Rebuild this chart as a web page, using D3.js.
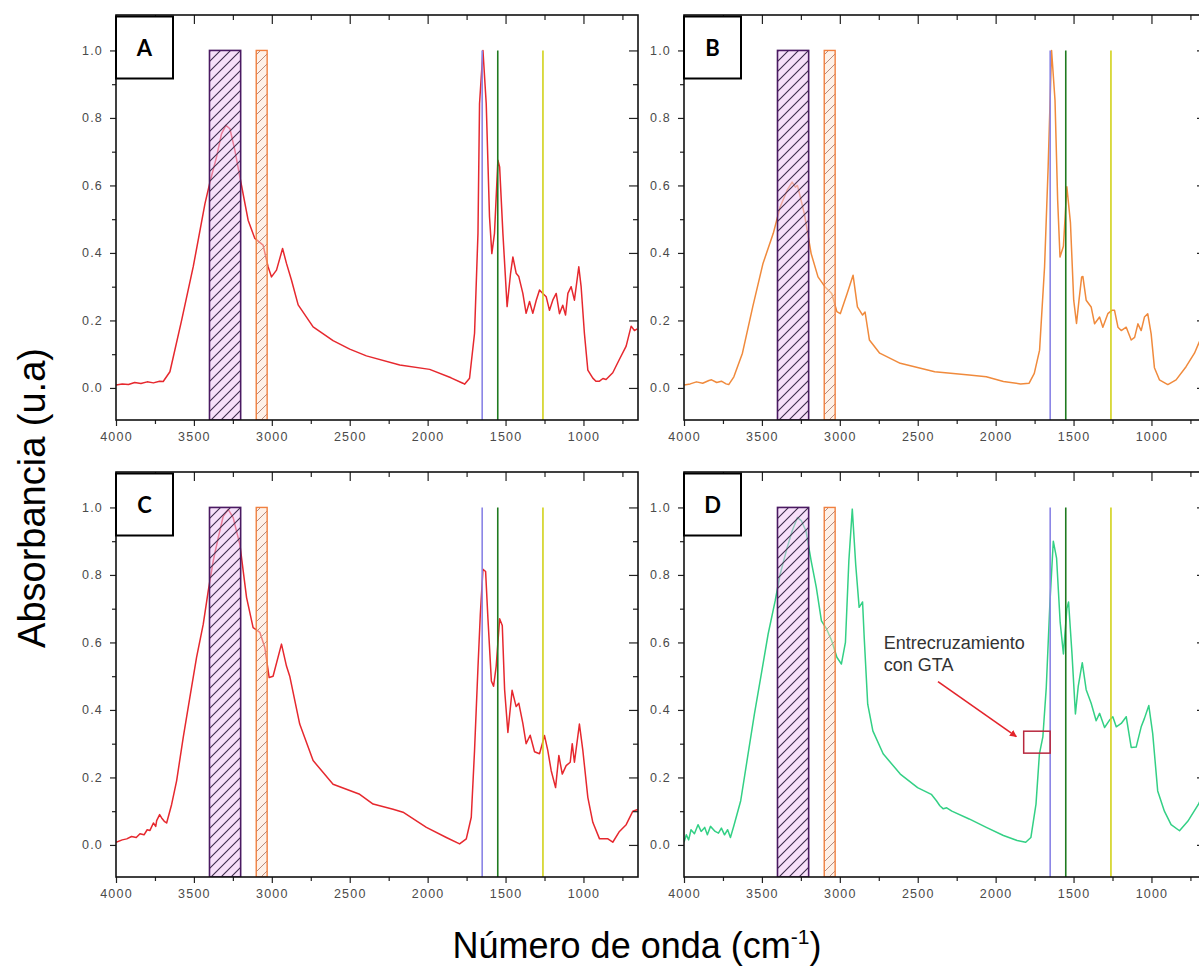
<!DOCTYPE html>
<html>
<head>
<meta charset="utf-8">
<script src="https://cdn.jsdelivr.net/npm/d3@7"></script>
<style>
  body { margin: 0; background: #fff; }
  svg { display: block; }
</style>
</head>
<body>
<svg id="chart" width="1199" height="968"></svg>
<script>
// FTIR spectra: [wavenumber (cm-1), normalised absorbance]
const spectrumA = [[4000,0.009],[3960,0.012],[3920,0.010],[3880,0.016],[3840,0.013],[3800,0.018],[3760,0.015],[3720,0.020],[3697,0.019],[3654,0.048],[3579,0.20],[3504,0.36],[3429,0.546],[3397,0.61],[3355,0.684],[3323,0.753],[3295,0.778],[3269,0.768],[3237,0.704],[3205,0.625],[3152,0.497],[3109,0.443],[3056,0.423],[3024,0.359],[3002,0.329],[2970,0.349],[2931,0.413],[2906,0.369],[2874,0.32],[2831,0.246],[2735,0.181],[2607,0.14],[2500,0.115],[2393,0.095],[2179,0.068],[1987,0.055],[1850,0.03],[1774,0.014],[1763,0.011],[1731,0.029],[1699,0.162],[1677,0.458],[1667,0.842],[1645,1.0],[1624,0.842],[1603,0.507],[1588,0.398],[1571,0.458],[1549,0.675],[1538,0.655],[1517,0.458],[1490,0.241],[1468,0.339],[1453,0.388],[1432,0.34],[1415,0.33],[1389,0.28],[1368,0.221],[1346,0.256],[1325,0.221],[1303,0.26],[1282,0.29],[1261,0.28],[1239,0.27],[1218,0.23],[1197,0.26],[1175,0.28],[1154,0.22],[1133,0.245],[1115,0.216],[1100,0.28],[1079,0.30],[1058,0.26],[1030,0.359],[1015,0.30],[994,0.162],[972,0.053],[940,0.029],[920,0.02],[897,0.02],[875,0.028],[855,0.025],[812,0.045],[769,0.085],[726,0.124],[694,0.183],[673,0.17],[655,0.175]];

const spectrumB = [[4000,0.009],[3960,0.012],[3920,0.018],[3880,0.014],[3840,0.022],[3823,0.024],[3790,0.016],[3760,0.02],[3730,0.012],[3713,0.01],[3680,0.033],[3625,0.103],[3559,0.24],[3493,0.369],[3427,0.458],[3383,0.536],[3338,0.586],[3306,0.61],[3285,0.595],[3272,0.6],[3228,0.517],[3184,0.398],[3140,0.329],[3096,0.30],[3052,0.28],[3019,0.226],[2997,0.22],[2953,0.28],[2915,0.334],[2887,0.24],[2854,0.216],[2838,0.225],[2810,0.142],[2744,0.103],[2612,0.073],[2391,0.048],[2170,0.038],[2060,0.033],[1950,0.019],[1840,0.012],[1785,0.014],[1752,0.043],[1718,0.112],[1686,0.359],[1663,0.655],[1641,1.0],[1619,0.852],[1602,0.556],[1587,0.388],[1565,0.42],[1543,0.596],[1520,0.49],[1499,0.26],[1481,0.191],[1465,0.26],[1448,0.329],[1440,0.33],[1419,0.26],[1387,0.24],[1365,0.19],[1333,0.21],[1312,0.18],[1280,0.22],[1254,0.23],[1237,0.23],[1215,0.18],[1194,0.17],[1162,0.18],[1130,0.142],[1108,0.15],[1087,0.19],[1066,0.17],[1045,0.21],[1024,0.22],[1002,0.16],[981,0.06],[949,0.024],[895,0.01],[842,0.024],[778,0.063],[724,0.103],[699,0.13],[670,0.16]];

const spectrumC = [[4000,0.008],[3960,0.015],[3931,0.018],[3900,0.025],[3870,0.022],[3846,0.033],[3820,0.03],[3800,0.045],[3782,0.043],[3760,0.065],[3745,0.055],[3739,0.072],[3720,0.09],[3707,0.08],[3690,0.07],[3675,0.065],[3643,0.12],[3611,0.19],[3568,0.32],[3526,0.437],[3483,0.556],[3440,0.654],[3408,0.753],[3376,0.842],[3344,0.91],[3312,0.974],[3280,0.994],[3248,0.97],[3205,0.89],[3162,0.733],[3120,0.644],[3077,0.63],[3045,0.585],[3017,0.496],[2992,0.50],[2938,0.595],[2906,0.53],[2885,0.5],[2821,0.358],[2735,0.25],[2607,0.18],[2436,0.15],[2350,0.121],[2222,0.106],[2158,0.097],[2008,0.052],[1880,0.022],[1795,0.003],[1752,0.018],[1720,0.082],[1699,0.28],[1677,0.526],[1662,0.683],[1645,0.817],[1628,0.81],[1613,0.67],[1591,0.486],[1577,0.47],[1560,0.53],[1538,0.67],[1521,0.65],[1506,0.46],[1485,0.333],[1458,0.458],[1432,0.41],[1415,0.42],[1389,0.36],[1368,0.30],[1342,0.325],[1314,0.276],[1282,0.27],[1250,0.324],[1229,0.28],[1207,0.22],[1179,0.17],[1158,0.265],[1136,0.21],[1111,0.235],[1085,0.245],[1072,0.30],[1058,0.245],[1026,0.358],[1004,0.28],[972,0.141],[940,0.067],[897,0.018],[843,0.018],[812,0.008],[769,0.04],[726,0.06],[683,0.1],[652,0.105]];

const spectrumD = [[4000,0.008],[3985,0.03],[3970,0.015],[3955,0.045],[3933,0.033],[3910,0.06],[3890,0.04],[3867,0.052],[3850,0.03],[3830,0.055],[3800,0.04],[3779,0.035],[3760,0.05],[3740,0.03],[3720,0.045],[3702,0.022],[3680,0.057],[3636,0.131],[3592,0.26],[3548,0.388],[3504,0.506],[3460,0.625],[3415,0.723],[3383,0.802],[3338,0.881],[3306,0.93],[3272,0.97],[3246,0.96],[3217,0.93],[3184,0.842],[3151,0.763],[3118,0.664],[3085,0.64],[3052,0.605],[3019,0.556],[2990,0.536],[2964,0.6],[2942,0.842],[2920,0.995],[2898,0.83],[2876,0.704],[2854,0.72],[2843,0.61],[2821,0.417],[2788,0.338],[2722,0.27],[2612,0.21],[2501,0.17],[2413,0.15],[2380,0.131],[2358,0.116],[2336,0.107],[2314,0.11],[2281,0.1],[2170,0.077],[2060,0.052],[1950,0.028],[1862,0.013],[1807,0.008],[1774,0.022],[1741,0.121],[1719,0.27],[1697,0.32],[1675,0.467],[1652,0.714],[1630,0.90],[1609,0.85],[1586,0.66],[1565,0.566],[1543,0.70],[1532,0.72],[1510,0.566],[1488,0.388],[1470,0.47],[1448,0.53],[1444,0.54],[1419,0.46],[1387,0.42],[1355,0.368],[1333,0.39],[1301,0.348],[1269,0.37],[1248,0.38],[1226,0.35],[1194,0.36],[1162,0.38],[1130,0.289],[1098,0.29],[1066,0.35],[1045,0.375],[1017,0.413],[992,0.33],[960,0.16],[917,0.10],[874,0.06],[820,0.042],[767,0.07],[699,0.12],[670,0.15]];

// Highlighted absorption regions (cm-1) and reference band positions
const bandOH = [3400, 3200];
const bandCH = [3100, 3030];
const bandLines = [1650, 1550, 1260];
const bandLineColors = ["#8a84e6", "#1f7a1f", "#d2d21a"];

// Axis ticks
const xMajorTicks = [4000, 3500, 3000, 2500, 2000, 1500, 1000];
const xMinorTicks = [3750, 3250, 2750, 2250, 1750, 1250, 750];
const yMajorTicks = [0.0, 0.2, 0.4, 0.6, 0.8, 1.0];
const yMinorTicks = [0.1, 0.3, 0.5, 0.7, 0.9];

// Panels
const panelLabels = ["A", "B", "C", "D"];
const panelSeries = [spectrumA, spectrumB, spectrumC, spectrumD];
const panelColors = ["#e6282e", "#f08a3c", "#e6282e", "#33d085"];

// Cross-linking note in panel D (data coordinates)
const noteLines = ["Entrecruzamiento", "con GTA"];
const noteAnchor = [2718, 0.581];
const noteArrow = [[2370, 0.484], [1867, 0.321]];
const noteBox = [[1820, 0.337], [1650, 0.272]];

// ---------------- layout ----------------
const svg = d3.select("#chart");
const plotW = 522, plotH = 405;
const origins = [[116, 15], [684, 15], [116, 472], [684, 472]];

const x = d3.scaleLinear().domain([4000, 650]).range([0, plotW]);
const y = d3.scaleLinear().domain([-0.095, 1.105]).range([plotH, 0]);

const defs = svg.append("defs");

function hatch(id, bg, lineColor, width) {
  const p = defs.append("pattern")
    .attr("id", id).attr("patternUnits", "userSpaceOnUse")
    .attr("width", 10).attr("height", 10);
  p.append("rect").attr("width", 10).attr("height", 10).attr("fill", bg);
  p.append("path")
    .attr("d", "M-2.5,2.5 L2.5,-2.5 M0,10 L10,0 M7.5,12.5 L12.5,7.5")
    .attr("stroke", lineColor).attr("stroke-width", width);
}
hatch("hatch-oh", "rgba(238,196,244,0.55)", "#3b2a4a", 1.1);
hatch("hatch-ch", "rgba(253,228,210,0.5)", "#b88a7c", 1.0);

defs.append("marker")
  .attr("id", "arrow-red").attr("viewBox", "0 0 10 10")
  .attr("refX", 9).attr("refY", 5)
  .attr("markerWidth", 7).attr("markerHeight", 7)
  .attr("markerUnits", "userSpaceOnUse")
  .attr("orient", "auto")
  .append("path").attr("d", "M0,0 L10,5 L0,10 Z").attr("fill", "#e3242b");

defs.append("clipPath").attr("id", "plot-clip")
  .append("rect").attr("width", plotW).attr("height", plotH);

const line = d3.line().x(d => x(d[0])).y(d => y(d[1]));

const tickFont = "'Liberation Sans', Arial, sans-serif";

panelLabels.forEach((label, i) => {
  const [ox, oy] = origins[i];
  const g = svg.append("g").attr("transform", `translate(${ox},${oy})`);
  const plot = g.append("g").attr("clip-path", "url(#plot-clip)");

  // spectrum
  plot.append("path")
    .datum(panelSeries[i])
    .attr("fill", "none")
    .attr("stroke", panelColors[i])
    .attr("stroke-width", 1.5)
    .attr("stroke-linejoin", "round")
    .attr("d", line);

  // reference band lines
  bandLines.forEach((w, k) => {
    plot.append("line")
      .attr("x1", x(w)).attr("x2", x(w))
      .attr("y1", y(1.0)).attr("y2", plotH)
      .attr("stroke", bandLineColors[k]).attr("stroke-width", 1.6);
  });

  // hatched regions
  plot.append("rect")
    .attr("x", x(bandOH[0])).attr("width", x(bandOH[1]) - x(bandOH[0]))
    .attr("y", y(1.0)).attr("height", plotH - y(1.0))
    .attr("fill", "url(#hatch-oh)")
    .attr("stroke", "#4a1a62").attr("stroke-width", 1.6);
  plot.append("rect")
    .attr("x", x(bandCH[0])).attr("width", x(bandCH[1]) - x(bandCH[0]))
    .attr("y", y(1.0)).attr("height", plotH - y(1.0))
    .attr("fill", "url(#hatch-ch)")
    .attr("stroke", "#f08040").attr("stroke-width", 1.4);

  // axes: major/minor ticks on all four sides
  const bottomMajor = d3.axisBottom(x).tickValues(xMajorTicks).tickSize(6).tickPadding(6).tickFormat(d3.format("d"));
  const bottomMinor = d3.axisBottom(x).tickValues(xMinorTicks).tickSize(4).tickFormat("");
  const leftMajor = d3.axisLeft(y).tickValues(yMajorTicks).tickSize(6).tickPadding(7).tickFormat(d3.format(".1f"));
  const leftMinor = d3.axisLeft(y).tickValues(yMinorTicks).tickSize(4).tickFormat("");
  const topMajor = d3.axisBottom(x).tickValues(xMajorTicks).tickSize(9).tickFormat("");
  const topMinor = d3.axisBottom(x).tickValues(xMinorTicks).tickSize(5).tickFormat("");
  const rightMajor = d3.axisLeft(y).tickValues(yMajorTicks).tickSize(9).tickFormat("");
  const rightMinor = d3.axisLeft(y).tickValues(yMinorTicks).tickSize(5).tickFormat("");

  const axes = [
    [bottomMajor, 0, plotH], [bottomMinor, 0, plotH],
    [leftMajor, 0, 0], [leftMinor, 0, 0],
    [topMajor, 0, 0], [topMinor, 0, 0],
    [rightMajor, plotW, 0], [rightMinor, plotW, 0]
  ];
  axes.forEach(([ax, tx, ty]) => {
    const a = g.append("g").attr("transform", `translate(${tx},${ty})`).call(ax);
    a.select(".domain").remove();
    a.selectAll(".tick line").attr("stroke", "#222").attr("stroke-width", 1.2);
    a.selectAll(".tick text")
      .attr("fill", "#4a4a4a")
      .style("font-family", tickFont)
      .style("font-size", "12.5px")
      .style("letter-spacing", "1.2px");
  });

  // frame
  g.append("rect")
    .attr("width", plotW).attr("height", plotH)
    .attr("fill", "none").attr("stroke", "#111").attr("stroke-width", 1.6);

  // panel letter
  g.append("rect")
    .attr("x", 0).attr("y", 1.5).attr("width", 57).attr("height", 62)
    .attr("fill", "#fff").attr("stroke", "#000").attr("stroke-width", 2);
  g.append("text")
    .attr("x", 28.5).attr("y", 40.5)
    .attr("text-anchor", "middle")
    .style("font-family", "Lato, 'Open Sans', sans-serif")
    .style("font-weight", "bold")
    .style("font-size", "22px")
    .text(label);

  // cross-linking note on panel D
  if (label === "D") {
    const t = g.append("text")
      .attr("x", x(noteAnchor[0])).attr("y", y(noteAnchor[1]))
      .style("font-family", tickFont)
      .style("font-size", "18px")
      .attr("fill", "#333");
    noteLines.forEach((s, k) => {
      t.append("tspan").attr("x", x(noteAnchor[0])).attr("dy", k === 0 ? 0 : 22).text(s);
    });
    g.append("line")
      .attr("x1", x(noteArrow[0][0])).attr("y1", y(noteArrow[0][1]))
      .attr("x2", x(noteArrow[1][0])).attr("y2", y(noteArrow[1][1]))
      .attr("stroke", "#e3242b").attr("stroke-width", 1.6)
      .attr("marker-end", "url(#arrow-red)");
    g.append("rect")
      .attr("x", x(noteBox[0][0])).attr("y", y(noteBox[0][1]))
      .attr("width", x(noteBox[1][0]) - x(noteBox[0][0]))
      .attr("height", y(noteBox[1][1]) - y(noteBox[0][1]))
      .attr("fill", "none").attr("stroke", "#b8283e").attr("stroke-width", 1.5);
  }
});

// shared axis titles
svg.append("text")
  .attr("transform", "translate(45,498) rotate(-90)")
  .attr("text-anchor", "middle")
  .style("font-family", tickFont)
  .style("font-size", "38px")
  .attr("fill", "#000")
  .text("Absorbancia (u.a)");

const xt = svg.append("text")
  .attr("x", 637).attr("y", 958)
  .attr("text-anchor", "middle")
  .style("font-family", tickFont)
  .style("font-size", "36px")
  .attr("fill", "#000");
xt.append("tspan").text("Número de onda (cm");
xt.append("tspan").attr("dy", -14).style("font-size", "21px").text("-1");
xt.append("tspan").attr("dy", 14).text(")");
</script>
</body>
</html>
